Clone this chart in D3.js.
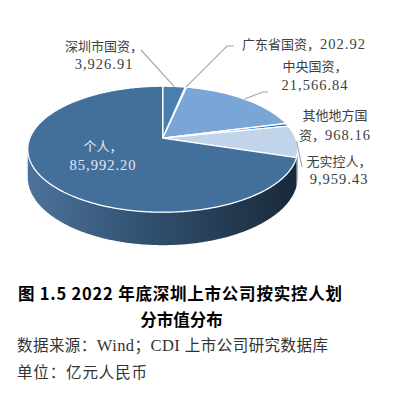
<!DOCTYPE html>
<html><head><meta charset="utf-8">
<script src="https://cdn.jsdelivr.net/npm/d3@7"></script>
<style>html,body{margin:0;padding:0;background:#fff;} svg{display:block;}</style>
</head><body>
<svg id="chart" width="405" height="396"></svg>
<script>
// ---- data ----
const categories = ["深圳市国资", "广东省国资", "中央国资", "其他地方国资", "无实控人", "个人"];
const values = [3926.91, 202.92, 21566.84, 968.16, 9959.43, 85992.20];
const titleLines = ["图 1.5 2022 年底深圳上市公司按实控人划", "分市值分布"];
const sourceText = "数据来源：Wind；CDI 上市公司研究数据库";
const unitText = "单位：亿元人民币";

// ---- styles / layout ----
const topColors = ["#4a7db0", "#2d5d8d", "#79a6d7", "#1a74c6", "#c2d4e9", "#42709b"];
const sideColors = ["#2c4b6a", "#1f3d5c", "#4a6e94", "#144d85", "#7f93aa", null];
const labelLayout = [
  {x: 104, ys: [51, 69], brk: 6, anchor: "middle", fill: "#404040", leader: [[141, 50]]},
  {x: 242, ys: [48.5], brk: null, anchor: "start", fill: "#404040", leader: [[234, 46], [227, 46]]},
  {x: 315, ys: [71, 90], brk: 5, anchor: "middle", fill: "#404040", leader: [[268, 92], [263, 92]]},
  {x: 335, ys: [120, 139.5], brk: 5, anchor: "middle", fill: "#404040", leader: null},
  {x: 339, ys: [165.5, 184], brk: 5, anchor: "middle", fill: "#404040", leader: [[302, 167]]},
  {x: 103, ys: [150.5, 170], brk: 3, anchor: "middle", fill: "#e2e9f1", leader: null}
];

const svg = d3.select("#chart");
const cx = 162.7, cy = 138.2, k = 132.9, k2 = 61.1, p = 0.1746, H = 27.2;

function P(a, h) {
  const X = Math.sin(a), Z = Math.cos(a), w = 1 + p * Z;
  return [cx + k * X / w, cy - k2 * Z / w + H * h / w];
}
function arcPts(a0, a1, h) {
  const n = Math.max(2, Math.ceil(Math.abs(a1 - a0) / 0.015));
  return d3.range(n + 1).map(i => P(a0 + (a1 - a0) * i / n, h));
}

const pie = d3.pie().sort(null).value(d => d)(values);
const fmt = d3.format(",.2f");
const line = d3.line();

// gradient for side
const defs = svg.append("defs");
const grad = defs.append("linearGradient").attr("id", "sideGrad")
  .attr("gradientUnits", "userSpaceOnUse")
  .attr("x1", cx - k * 1.02).attr("x2", cx + k * 1.02).attr("y1", 0).attr("y2", 0);
grad.append("stop").attr("offset", "0%").attr("stop-color", "#4d729b");
grad.append("stop").attr("offset", "45%").attr("stop-color", "#30506f");
grad.append("stop").attr("offset", "100%").attr("stop-color", "#1a2838");

// sides (front visible part)
const aR = Math.acos(-p), aL = 2 * Math.PI - aR;
const gSide = svg.append("g");
pie.forEach((s, i) => {
  const s0 = Math.max(s.startAngle, aR), s1 = Math.min(s.endAngle, aL);
  if (s0 >= s1) return;
  const pts = arcPts(s0, s1, 0).concat(arcPts(s1, s0, 1));
  gSide.append("path").attr("d", line(pts) + "Z")
    .attr("fill", sideColors[i] || "url(#sideGrad)");
});

// top faces
const gTop = svg.append("g");
pie.forEach((s, i) => {
  const pts = [[cx, cy]].concat(arcPts(s.startAngle, s.endAngle, 0));
  gTop.append("path").attr("d", line(pts) + "Z")
    .attr("fill", topColors[i])
    .attr("stroke", "#ffffff").attr("stroke-width", 1.3).attr("stroke-linejoin", "round");
});

// leader lines
const gLead = svg.append("g");
pie.forEach((s, i) => {
  const L = labelLayout[i];
  if (!L.leader) return;
  const mid = (s.startAngle + s.endAngle) / 2;
  const pts = L.leader.concat([P(mid, 0)]);
  gLead.append("path").attr("d", line(pts)).attr("fill", "none")
    .attr("stroke", "#a6a6a6").attr("stroke-width", 1.2);
});

// text helper with CJK / latin runs
const cjkRe = /[\u3000-\u303f\u3400-\u9fff\uff00-\uffef]/;
function addRuns(textSel, str, cjkFont, cjkSize, latFont, latSize, latSpacing, weight) {
  const runs = [];
  for (const ch of str) {
    const isC = cjkRe.test(ch);
    if (runs.length && runs[runs.length - 1].c === isC) runs[runs.length - 1].t += ch;
    else runs.push({c: isC, t: ch});
  }
  runs.forEach(r => {
    textSel.append("tspan").text(r.t)
      .attr("font-family", r.c ? cjkFont : latFont)
      .attr("font-size", r.c ? cjkSize : latSize)
      .attr("letter-spacing", r.c ? 0 : latSpacing)
      .attr("font-weight", weight || "normal");
  });
}

// labels
const gLab = svg.append("g");
pie.forEach((s, i) => {
  const L = labelLayout[i];
  const full = categories[i] + "，" + fmt(values[i]);
  const parts = L.brk == null ? [full] : [full.slice(0, L.brk), full.slice(L.brk)];
  parts.forEach((t, j) => {
    const te = gLab.append("text").attr("x", L.x).attr("y", L.ys[j])
      .attr("text-anchor", L.anchor).attr("fill", L.fill)
      .attr("xml:space", "preserve");
    addRuns(te, t, "'Noto Sans CJK SC'", 13, "'Liberation Serif'", 14.5, 1);
  });
});

// title & notes
const t1 = svg.append("text").attr("x", 18).attr("y", 300).attr("fill", "#000")
  .attr("textLength", 324).attr("lengthAdjust", "spacing");
addRuns(t1, titleLines[0], "'Noto Sans CJK SC'", 16.5, "'Noto Sans CJK SC'", 16.5, 0, "bold");
const t2 = svg.append("text").attr("x", 181.5).attr("y", 326).attr("fill", "#000")
  .attr("text-anchor", "middle");
addRuns(t2, titleLines[1], "'Noto Sans CJK SC'", 16.5, "'Noto Sans CJK SC'", 16.5, 0, "bold");
const t3 = svg.append("text").attr("x", 17).attr("y", 351).attr("fill", "#333")
  .attr("textLength", 311).attr("lengthAdjust", "spacing");
addRuns(t3, sourceText, "'Noto Sans CJK SC'", 15.5, "'Liberation Serif'", 16.5, 0);
const t4 = svg.append("text").attr("x", 17).attr("y", 377.5).attr("fill", "#333")
  .attr("textLength", 130).attr("lengthAdjust", "spacing");
addRuns(t4, unitText, "'Noto Sans CJK SC'", 15.5, "'Liberation Serif'", 16.5, 0);
</script>
</body></html>
